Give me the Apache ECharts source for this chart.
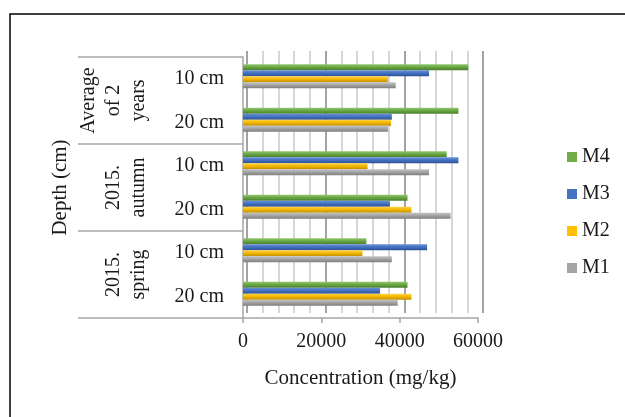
<!DOCTYPE html>
<html>
<head>
<meta charset="utf-8">
<script src="https://cdn.jsdelivr.net/npm/echarts@6/dist/echarts.min.js"></script>
<style>
  html, body { margin: 0; padding: 0; background: #fff; }
  #chart { width: 625px; height: 417px; }
</style>
</head>
<body>
<div id="chart"></div>
<script>
// Categories, bottom to top
const depthLabels = ['20 cm', '10 cm', '20 cm', '10 cm', '20 cm', '10 cm'];
const periodLabels = ['2015.\nspring', '2015.\nautumn', 'Average\nof 2\nyears'];
// Bars are stacked top-down inside each category: M4 first, M1 last
const seriesNames = ['M4', 'M3', 'M2', 'M1'];

// Concentration (mg/kg), same order as depthLabels
const m1 = [39500, 38000, 53000, 47500, 37000, 39000];
const m2 = [43000, 30500, 43000, 31800, 37800, 37000];
const m3 = [35000, 47000, 37500, 55000, 38000, 47500];
const m4 = [42000, 31500, 42000, 52000, 55000, 57500];

const xTicks = [0, 20000, 40000, 60000];

const FONT = 'Liberation Serif';
const TXT = '#1a1a1a';

function shade(light, base, dark) {
  return new echarts.graphic.LinearGradient(0, 0, 0, 1, [
    { offset: 0, color: light },
    { offset: 0.45, color: base },
    { offset: 1, color: dark }
  ]);
}
const flat = { M1: '#a5a5a5', M2: '#ffc000', M3: '#4472c4', M4: '#70ad47' };
const palette = {
  M1: shade('#c4c4c4', '#a5a5a5', '#7e7e7e'),
  M2: shade('#ffd44d', '#f5b800', '#c08f00'),
  M3: shade('#6b92d8', '#4472c4', '#2c5294'),
  M4: shade('#93c76f', '#6aa844', '#4a7f2c')
};
const values = { M1: m1, M2: m2, M3: m3, M4: m4 };

const chart = echarts.init(document.getElementById('chart'), null, { renderer: 'canvas' });

const option = {
  animation: false,
  backgroundColor: '#fff',
  textStyle: { fontFamily: FONT, color: TXT },
  graphic: [{
    type: 'rect',
    shape: { x: 10, y: 14, width: 700, height: 500 },
    style: { fill: 'none', stroke: '#000', lineWidth: 1.5 },
    silent: true
  }],
  legend: {
    orient: 'vertical',
    left: 562,
    top: 142,
    itemWidth: 10,
    itemHeight: 10,
    itemGap: 17,
    icon: 'rect',
    data: ['M4', 'M3', 'M2', 'M1'].map(n => ({ name: n, itemStyle: { color: flat[n] } })),
    textStyle: { fontFamily: FONT, fontSize: 20, color: TXT }
  },
  grid: [
    // front plane: axes and category labels
    { left: 243, top: 57, width: 235, height: 261, outerBoundsMode: 'none', containLabel: false },
    // back wall with gridlines
    { left: 247, top: 51, width: 236, height: 262, outerBoundsMode: 'none', containLabel: false },
    // bars
    { left: 243, top: 54.5, width: 235, height: 261, outerBoundsMode: 'none', containLabel: false }
  ],
  xAxis: [
    {
      gridIndex: 0, type: 'value', min: 0, max: 60000, interval: 20000,
      axisLine: { show: true, lineStyle: { color: '#a6a6a6', width: 1.5 } },
      axisTick: { show: true, length: 5, lineStyle: { color: '#a6a6a6', width: 1.5 } },
      splitLine: { show: false },
      axisLabel: {
        margin: 14, fontFamily: FONT, fontSize: 20, color: TXT,
        formatter: v => (xTicks.includes(v) ? String(v) : '')
      },
      name: 'Concentration (mg/kg)',
      nameLocation: 'middle',
      nameGap: 50,
      nameTextStyle: { fontFamily: FONT, fontSize: 21, color: TXT }
    },
    {
      gridIndex: 1, type: 'value', min: 0, max: 60000, interval: 20000,
      axisLine: { show: false }, axisTick: { show: false }, axisLabel: { show: false },
      splitLine: { show: true, lineStyle: { color: '#a3a3a3', width: 2 } },
      minorTick: { show: false, splitNumber: 5 },
      minorSplitLine: { show: true, lineStyle: { color: '#d6d6d6', width: 2 } }
    },
    {
      gridIndex: 2, type: 'value', min: 0, max: 60000, show: false
    }
  ],
  yAxis: [
    {
      gridIndex: 0, type: 'category', data: depthLabels, position: 'left',
      axisLine: { show: true, lineStyle: { color: '#a6a6a6', width: 1.5 } },
      axisTick: { show: false },
      axisLabel: { margin: 19, fontFamily: FONT, fontSize: 20, color: TXT },
      name: 'Depth (cm)',
      nameLocation: 'middle',
      nameGap: 172,
      nameTextStyle: { fontFamily: FONT, fontSize: 21, color: TXT }
    },
    {
      gridIndex: 0, type: 'category', data: periodLabels, position: 'left', offset: 0,
      axisLine: { show: false },
      axisTick: { show: true, length: 165, lineStyle: { color: '#a6a6a6', width: 1.5 } },
      axisLabel: {
        rotate: 90, margin: 92, fontFamily: FONT, fontSize: 20, lineHeight: 25, color: TXT
      }
    },
    { gridIndex: 1, type: 'value', show: false },
    { gridIndex: 2, type: 'category', data: depthLabels, show: false }
  ],
  series: seriesNames.map(name => ({
    name,
    type: 'bar',
    xAxisIndex: 2,
    yAxisIndex: 3,
    data: values[name],
    barWidth: 6,
    barGap: '0%',
    itemStyle: { color: palette[name] },
    emphasis: { disabled: true }
  }))
};

chart.setOption(option);
</script>
</body>
</html>
